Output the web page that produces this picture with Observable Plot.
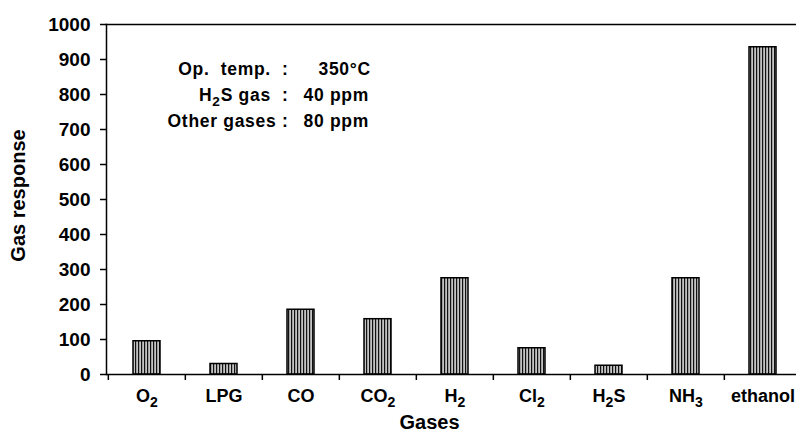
<!DOCTYPE html>
<html>
<head>
<meta charset="utf-8">
<script src="https://cdn.jsdelivr.net/npm/d3@7"></script>
<script src="https://cdn.jsdelivr.net/npm/@observablehq/plot@0.6"></script>
<style>
  html, body { margin: 0; padding: 0; background: #fff; overflow: hidden; }
  #chart svg { display: block; font-family: "Liberation Sans", Arial, sans-serif; font-weight: bold; }
  #chart svg .cond { letter-spacing: 0.7px; }
</style>
</head>
<body>
<div id="chart"></div>
<script>
// Gas response of the sensor to each test gas
const gases = ["O₂", "LPG", "CO", "CO₂", "H₂", "Cl₂", "H₂S", "NH₃", "ethanol"];
const response = [95, 30, 185, 158, 275, 75, 25, 275, 935];

// Measurement conditions shown inside the plot
const condLabels = ["Op.  temp.  :", "H₂S gas  :", "Other gases :"];
const condValues = ["350°C", "40 ppm", "80 ppm"];

const yTicks = [0, 100, 200, 300, 400, 500, 600, 700, 800, 900, 1000];

const data = gases.map((g, i) => ({gas: g, value: response[i]}));

const W = 796, H = 432;
const left = 106, right = 802;          // category band extends just past the right edge
const step = (right - left) / gases.length;

// condition block: label column right-aligned, value column left-aligned
const rowDy = [45, 71, 97];
const valueDx = [212, 197, 197];
const condMarks = condLabels.flatMap((lab, i) => [
  Plot.text([lab], {frameAnchor: "top-left", dx: 182, dy: rowDy[i], textAnchor: "end",
    lineAnchor: "middle", fontSize: 17.5, fontWeight: "bold", fill: "#000", className: "cond"}),
  Plot.text([condValues[i]], {frameAnchor: "top-left", dx: valueDx[i], dy: rowDy[i], textAnchor: "start",
    lineAnchor: "middle", fontSize: 17.5, fontWeight: "bold", fill: "#000", className: "cond"})
]);

const chart = Plot.plot({
  width: W,
  height: H,
  marginLeft: left,
  marginRight: 0,
  marginTop: 24,
  marginBottom: 58,
  style: {fontSize: "18px", fontWeight: "bold", fontFamily: "Liberation Sans, Arial, sans-serif", overflow: "visible"},
  x: {domain: gases, range: [left, right], paddingInner: 0.65, paddingOuter: 0.325},
  y: {domain: [0, 1000], ticks: yTicks},
  marks: [
    Plot.barY(data, {x: "gas", y: "value", fill: "url(#vstripes)", stroke: "#000", strokeWidth: 1.5}),
    Plot.frame({anchor: "left", stroke: "#000", strokeWidth: 1.5}),
    Plot.frame({anchor: "bottom", stroke: "#000", strokeWidth: 1.5}),
    Plot.frame({anchor: "top", stroke: "#000", strokeWidth: 1.5}),
    Plot.axisY({ticks: yTicks, tickFormat: d3.format("d"), tickSize: 6, tickPadding: 10, strokeWidth: 1.5,
      label: null, fill: "#000", fontSize: 19}),
    Plot.text(["Gas response"], {frameAnchor: "left", rotate: -90, dx: -88, dy: -4, textAnchor: "middle",
      fontSize: 20, fontWeight: "bold", fill: "#000"}),
    // ticks sit between categories
    Plot.axisX({tickSize: 6, tickFormat: null, dx: -step / 2, strokeWidth: 1.5, label: null}),
    Plot.axisX({tickSize: 0, tickPadding: 15, label: null, fill: "#000", fontSize: 18}),
    Plot.text(["Gases"], {frameAnchor: "bottom", dx: -22, dy: 54, fontSize: 20, fontWeight: "bold", fill: "#000"}),
    ...condMarks
  ]
});

// stripe fill for the bars
const ns = "http://www.w3.org/2000/svg";
const defs = document.createElementNS(ns, "defs");
const pat = document.createElementNS(ns, "pattern");
pat.setAttribute("id", "vstripes");
pat.setAttribute("patternUnits", "userSpaceOnUse");
pat.setAttribute("width", "3");
pat.setAttribute("height", "10");
const bg = document.createElementNS(ns, "rect");
bg.setAttribute("width", "3"); bg.setAttribute("height", "10"); bg.setAttribute("fill", "#c4c4c4");
const ln = document.createElementNS(ns, "rect");
ln.setAttribute("width", "1.2"); ln.setAttribute("height", "10"); ln.setAttribute("fill", "#111");
pat.appendChild(bg); pat.appendChild(ln); defs.appendChild(pat);
chart.insertBefore(defs, chart.firstChild);

// render subscript digits (₀–₉) as lowered, smaller tspans
const subRe = /([\u2080-\u2089]+)/;
chart.querySelectorAll("text").forEach(t => {
  if (t.children.length || !subRe.test(t.textContent)) return;
  const parts = t.textContent.split(subRe).filter(p => p !== "");
  t.textContent = "";
  let lowered = false;
  parts.forEach(p => {
    const sp = document.createElementNS(ns, "tspan");
    if (subRe.test(p)) {
      sp.textContent = Array.from(p, c => String(c.charCodeAt(0) - 0x2080)).join("");
      sp.setAttribute("dy", "5");
      sp.setAttribute("font-size", "0.78em");
      lowered = true;
    } else {
      sp.textContent = p;
      if (lowered) { sp.setAttribute("dy", "-5"); lowered = false; }
    }
    t.appendChild(sp);
  });
});

document.getElementById("chart").appendChild(chart);
</script>
</body>
</html>
